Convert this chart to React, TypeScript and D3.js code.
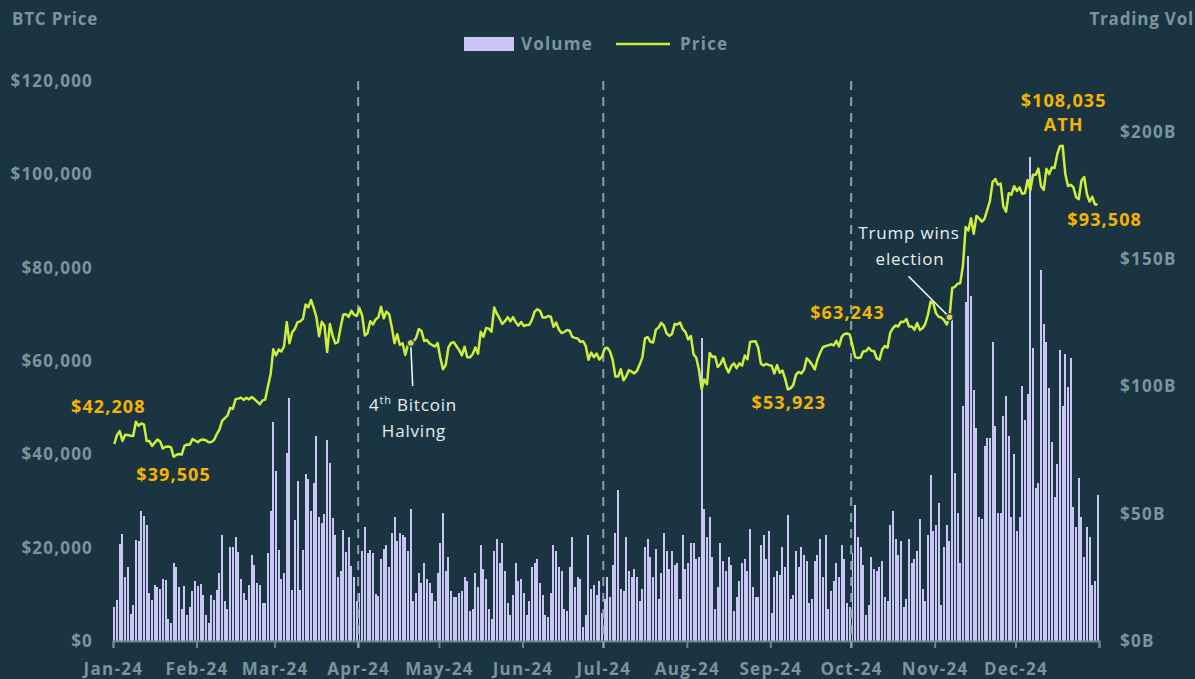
import React, { useEffect, useRef } from 'react';
import * as d3 from 'd3';

// Daily BTC price in USD thousands, Jan 1 – Dec 31 2024 (one value per day)
const price = [
  42.21, 44.17, 44.96, 42.85, 44.18, 44.16, 43.99, 43.94, 46.97, 46.14,
  46.63, 46.37, 42.85, 42.84, 41.80, 42.51, 43.15, 42.74, 41.26, 41.62,
  41.67, 41.55, 39.51, 39.85, 40.08, 39.93, 41.82, 42.12, 42.04, 43.29,
  42.95,
  42.58, 43.08, 43.19, 42.99, 42.58, 42.66, 43.08, 44.32, 45.30, 47.15,
  47.77, 48.29, 49.96, 49.74, 51.83, 51.94, 52.16, 51.66, 52.12, 51.78,
  52.28, 51.84, 51.30, 50.73, 51.57, 51.73, 54.52, 57.09, 62.50,
  61.20, 62.44, 62.03, 63.17, 68.33, 63.80, 66.11, 66.93, 68.30, 68.50,
  69.02, 72.12, 71.48, 73.08, 71.40, 69.40, 65.32, 68.39, 67.55, 61.91,
  67.91, 65.49, 63.78, 64.06, 67.23, 69.96, 70.00, 69.46, 70.78, 69.89,
  69.65,
  71.33, 69.70, 65.45, 65.98, 68.51, 67.84, 68.90, 69.36, 71.63, 69.14,
  70.59, 70.06, 67.20, 63.82, 65.74, 63.43, 63.81, 61.28, 63.51, 63.84,
  64.20, 64.93, 66.84, 66.41, 64.29, 64.50, 63.76, 63.42, 63.11, 63.84,
  60.64, 58.25, 59.12, 62.89, 63.89, 64.03, 63.16, 62.33, 61.19, 63.05,
  60.79, 60.79, 61.45, 62.90, 61.55, 66.27, 65.23, 67.05, 66.94, 66.28,
  71.45, 70.14, 69.12, 67.93, 68.53, 69.39, 68.51, 69.39, 68.30, 67.58,
  68.36,
  67.49, 67.71, 67.75, 68.80, 70.57, 71.08, 70.76, 69.34, 69.31, 69.65,
  69.50, 67.33, 68.24, 66.76, 66.01, 66.19, 66.64, 66.49, 65.16, 64.96,
  64.83, 64.10, 64.25, 63.18, 60.28, 61.80, 60.81, 61.60, 60.32, 60.89,
  62.68, 62.85, 62.03, 60.17, 56.66, 56.66, 58.23, 55.86, 56.71, 58.05,
  57.72, 57.34, 57.90, 59.23, 60.79, 64.87, 65.10, 64.12, 63.97, 66.71,
  67.16, 68.19, 67.58, 65.93, 65.37, 65.80, 67.91, 67.81, 68.26, 66.82,
  66.20,
  64.62, 65.36, 61.42, 60.70, 58.16, 53.99, 56.03, 55.03, 61.71, 60.88,
  60.95, 58.71, 59.35, 60.61, 58.74, 57.56, 58.89, 59.48, 58.48, 59.49,
  59.01, 61.18, 60.38, 64.09, 64.18, 64.22, 62.83, 59.42, 59.03, 59.39,
  59.12,
  58.97, 57.33, 59.11, 57.48, 57.97, 56.16, 53.92, 54.14, 54.84, 57.02,
  57.65, 57.34, 58.13, 60.57, 60.01, 59.18, 58.21, 60.31, 61.76, 62.95,
  63.20, 63.35, 63.58, 63.33, 64.30, 63.14, 65.18, 65.79, 65.89, 65.64,
  63.24, 60.84, 60.63, 60.75, 62.08, 62.09, 62.82, 62.22, 62.13, 60.58,
  60.27, 62.45, 63.19, 62.85, 66.05, 67.04, 67.61, 67.40, 68.42, 68.36,
  69.00, 67.37, 67.38, 66.68, 68.16, 66.64, 67.01, 67.93, 69.91, 72.72,
  72.34,
  70.22, 69.48, 69.29, 68.74, 67.81, 69.36, 75.64, 75.90, 76.55, 76.68,
  80.47, 88.70, 87.96, 90.58, 87.25, 91.07, 90.56, 89.85, 90.46, 92.31,
  94.29, 98.32, 98.99, 97.78, 98.01, 93.10, 91.99, 95.96, 95.65, 97.46,
  96.45, 97.19, 95.84, 95.97, 98.77, 96.59, 99.92, 99.92, 101.24, 97.43,
  96.68, 101.17, 100.04, 101.46, 101.37, 104.30, 106.03, 106.14, 100.04, 97.49,
  97.76, 97.22, 95.10, 94.69, 98.68, 99.43, 95.79, 94.16, 95.16, 93.53,
  93.51
];

// Daily trading volume in USD billions
const volume = [
  13.3, 16.3, 38.2, 42.2, 25.1, 29.0, 10.8, 14.1, 39.8, 39.2,
  50.9, 49.0, 45.4, 18.9, 16.3, 21.9, 21.1, 20.6, 24.2, 23.8,
  8.7, 6.9, 30.5, 29.0, 21.1, 12.7, 21.8, 10.2, 13.3, 19.6,
  23.5, 21.5, 22.2, 18.0, 10.2, 7.0, 18.0, 16.3, 20.2, 26.8,
  41.5, 15.7, 12.4, 36.9, 36.9, 40.9, 35.0, 24.2, 18.9, 16.3,
  21.9, 33.7, 29.8, 22.8, 21.9, 15.0, 15.0, 34.6, 50.9, 86.2,
  66.6, 35.9, 24.5, 26.6, 73.8, 95.6, 20.2, 47.6, 62.7, 20.2,
  35.9, 65.7, 63.7, 50.9, 62.0, 80.7, 48.7, 46.3, 50.0, 79.0,
  69.8, 48.3, 41.5, 25.1, 27.4, 43.7, 35.0, 40.7, 29.6, 25.1,
  15.9, 18.9, 35.2, 44.8, 34.6, 35.6, 34.6, 18.3, 17.6,
  32.1, 36.0, 37.6, 29.1, 42.6, 48.7, 39.3, 42.4, 41.6, 40.9,
  35.4, 51.7, 15.8, 18.8, 26.8, 22.8, 30.5, 24.4, 22.8, 18.9,
  15.8, 26.8, 38.5, 50.1, 27.5, 32.9, 19.7, 17.4, 17.4, 18.9,
  19.7, 25.2, 23.6, 11.9, 12.7, 26.8, 21.3, 37.6, 28.3, 24.4,
  12.7, 8.7, 35.4, 39.9, 30.7, 38.4, 27.5, 15.0, 10.3, 18.1,
  30.7, 23.6, 24.4, 18.9, 10.3, 15.8, 29.1, 30.7, 32.1, 22.8,
  18.1, 10.3, 9.5, 18.9, 37.6, 35.4, 29.1, 27.5, 12.7, 11.9,
  29.1, 40.9, 21.3, 25.2, 24.4, 5.6, 10.3, 41.6, 20.5, 22.1,
  18.1, 23.6, 11.1, 16.6, 25.2, 17.4, 29.9, 42.4, 59.5, 20.5,
  19.7, 40.9, 27.5, 25.2, 28.3, 25.2, 15.8, 20.5, 36.9, 39.9,
  33.0, 25.2, 36.2, 16.6, 26.8, 42.4, 35.4, 28.3, 35.4, 29.9,
  30.7,
  16.6, 41.6, 28.3, 30.7, 38.5, 38.5, 32.2, 33.0, 119.0, 51.8,
  40.9, 48.7, 33.0, 12.7, 21.3, 38.5, 31.5, 27.5, 33.0, 29.9,
  11.9, 17.4, 23.6, 30.7, 32.2, 27.5, 44.0, 21.3, 17.4, 17.4,
  37.7, 41.6, 32.2, 43.2, 11.1, 25.2, 27.5, 26.0, 36.9, 29.1,
  49.5, 16.6, 18.1, 35.4, 29.1, 36.9, 33.8, 31.5, 15.0, 16.6,
  31.5, 33.8, 40.1, 25.2, 41.6, 12.7, 19.7, 23.6, 30.7, 25.2,
  37.7, 32.2, 15.0, 13.4, 34.6, 53.4, 40.9, 36.9, 29.9, 10.3,
  14.2, 33.0, 28.3, 27.5, 29.1, 31.5, 17.4, 15.8, 45.6, 51.0,
  40.1, 33.8, 39.3, 13.4, 16.6, 40.1, 30.7, 32.2, 35.4, 47.9,
  20.5, 15.8, 41.6, 65.1, 43.2, 45.6, 54.2, 14.2, 36.9, 45.6,
  39.3, 126.0, 65.9, 50.3,
  30.5, 92.4, 133.2, 151.2, 135.5, 98.7, 83.8, 48.6, 47.8, 76.8,
  79.9, 79.9, 117.5, 84.6, 50.1, 50.1, 88.5, 96.3, 80.7, 48.6,
  73.6, 43.1, 48.6, 100.3, 86.9, 97.1, 190.0, 115.1, 60.3, 61.9,
  145.7, 124.5, 117.5, 99.5, 78.3, 56.4, 69.7, 114.4, 92.4, 112.8,
  99.9, 111.2, 52.5, 44.6, 64.2, 48.6, 32.9, 44.6, 40.7, 21.9,
  23.5, 57.2
];

const priceTicks = [0, 20000, 40000, 60000, 80000, 100000, 120000];
const volumeTicks = [0, 50, 100, 150, 200];
const quarterMarks = [new Date(2024, 3, 1), new Date(2024, 6, 1), new Date(2024, 9, 1)];

// price call-outs: day index in the series, label
const callouts = [
  { day: 0, text: '$42,208' },
  { day: 22, text: '$39,505' },
  { day: 250, text: '$53,923' },
  { day: 274, text: '$63,243' },
  { day: 352, text: '$108,035' },
  { day: 365, text: '$93,508' }
];
const events = [
  { day: 110, text: 'Halving' },
  { day: 310, text: 'Trump wins election' }
];

const W = 1195;
const H = 679;
const font = "'Open Sans', 'Segoe UI', sans-serif";
const GRAY = '#7c949c';
const GOLD = '#f4b400';

const BtcChart = () => {
  const ref = useRef(null);

  useEffect(() => {
    const root = d3.select(ref.current);
    root.selectAll('*').remove();

    const svg = root.append('svg')
      .attr('width', W)
      .attr('height', H)
      .style('display', 'block')
      .style('position', 'absolute')
      .style('left', 0)
      .style('top', 0)
      .style('font-family', font);

    svg.append('rect').attr('width', W).attr('height', H).attr('fill', '#1a3541');

    const days = d3.timeDay.range(new Date(2024, 0, 1), new Date(2025, 0, 1));
    const x = d3.scaleTime()
      .domain([new Date(2024, 0, 1), new Date(2025, 0, 1)])
      .range([113, 1099]);
    const step = (1099 - 113) / days.length;
    const cx = (i) => x(days[i]) + step / 2;

    const yP = d3.scaleLinear().domain([0, 120000]).range([641, 81]);
    const yV = d3.scaleLinear().domain([0, 220]).range([641, 81]);

    // headers (the volume title runs to the right edge, as in the source)
    svg.append('text').attr('x', 12).attr('y', 25)
      .attr('fill', GRAY).attr('font-size', 17).attr('font-weight', 700)
      .attr('letter-spacing', 0.8)
      .text('BTC Price');
    svg.append('text').attr('x', 1194).attr('y', 25).attr('text-anchor', 'end')
      .attr('fill', GRAY).attr('font-size', 17).attr('font-weight', 700)
      .attr('letter-spacing', 0.8)
      .text('Trading Vol');

    // legend
    const lg = svg.append('g').attr('font-size', 17).attr('font-weight', 700)
      .attr('fill', GRAY).attr('letter-spacing', 1.2);
    lg.append('rect').attr('x', 464).attr('y', 37).attr('width', 50).attr('height', 14).attr('fill', '#cac6f5');
    lg.append('text').attr('x', 521).attr('y', 50).text('Volume');
    lg.append('line').attr('x1', 616).attr('x2', 670).attr('y1', 44).attr('y2', 44)
      .attr('stroke', '#cdef3b').attr('stroke-width', 2.5);
    lg.append('text').attr('x', 680).attr('y', 50).text('Price');

    // left axis
    svg.append('g').selectAll('text').data(priceTicks).enter().append('text')
      .attr('x', 93).attr('y', d => yP(d) + 6)
      .attr('text-anchor', 'end').attr('fill', GRAY)
      .attr('font-size', 17).attr('font-weight', 700).attr('letter-spacing', 1.2)
      .text(d => '$' + d3.format(',')(d));

    // right axis
    svg.append('g').selectAll('text').data(volumeTicks).enter().append('text')
      .attr('x', 1120).attr('y', d => yV(d) + 6)
      .attr('fill', GRAY).attr('font-size', 17).attr('font-weight', 700).attr('letter-spacing', 1.3)
      .text(d => '$' + d + 'B');

    // volume bars
    const bw = step * 0.74;
    svg.append('g').attr('shape-rendering', 'crispEdges')
      .selectAll('rect').data(volume).enter().append('rect')
      .attr('x', (d, i) => cx(i) - bw / 2)
      .attr('y', d => yV(d))
      .attr('width', bw)
      .attr('height', d => 641 - yV(d))
      .attr('fill', '#cac6f5');

    // bottom axis
    const months = d3.timeMonth.range(new Date(2024, 0, 1), new Date(2025, 0, 2));
    const axis = svg.append('g').attr('transform', 'translate(0,641)')
      .call(d3.axisBottom(x).tickValues(months).tickSize(7)
        .tickFormat((d) => d.getFullYear() === 2024 ? d3.timeFormat('%b-%y')(d) : ''));
    axis.select('.domain').attr('stroke', '#6d8790').attr('stroke-width', 2);
    axis.selectAll('.tick line').attr('stroke', '#6d8790').attr('stroke-width', 2);
    axis.selectAll('.tick text')
      .attr('fill', GRAY).attr('font-size', 17).attr('font-weight', 700)
      .attr('letter-spacing', 1.3)
      .attr('font-family', font).attr('dy', 24);

    // quarter markers
    svg.append('g').selectAll('line').data(quarterMarks).enter().append('line')
      .attr('x1', d => x(d)).attr('x2', d => x(d))
      .attr('y1', 81).attr('y2', 648)
      .attr('stroke', '#8aa0a7').attr('stroke-width', 2)
      .attr('stroke-dasharray', '9,7');

    // price line
    const line = d3.line().x((d, i) => cx(i)).y(d => yP(d * 1000)).curve(d3.curveLinear);
    svg.append('path').datum(price)
      .attr('d', line)
      .attr('fill', 'none')
      .attr('stroke', '#cdef3b')
      .attr('stroke-width', 2.5)
      .attr('stroke-linejoin', 'round');

    // price call-outs
    const offs = [[-6, -31], [0, 24], [1, 20], [-5, -27], [1, -39], [7, 21]];
    callouts.forEach((c, i) => {
      const px = cx(c.day) + offs[i][0];
      const py = yP(price[c.day] * 1000) + offs[i][1];
      svg.append('text').attr('x', px).attr('y', py)
        .attr('text-anchor', 'middle').attr('fill', GOLD)
        .attr('font-size', 18).attr('font-weight', 700).attr('letter-spacing', 1.1)
        .text(c.text);
      if (c.day === 352) {
        svg.append('text').attr('x', px).attr('y', py + 24)
          .attr('text-anchor', 'middle').attr('fill', GOLD)
          .attr('font-size', 18).attr('font-weight', 700).attr('letter-spacing', 1.1)
          .text('ATH');
      }
    });

    // events
    const ev = svg.append('g').attr('fill', '#e6edef').attr('font-size', 17).attr('letter-spacing', 0.8);
    const h = events[0];
    const hx = cx(h.day), hy = yP(price[h.day] * 1000);
    ev.append('line').attr('x1', hx).attr('y1', hy).attr('x2', hx + 2).attr('y2', hy + 43)
      .attr('stroke', '#ffffff').attr('stroke-width', 1.5);
    const t1 = ev.append('text').attr('x', 413).attr('y', 411).attr('text-anchor', 'middle');
    t1.append('tspan').text('4');
    t1.append('tspan').attr('font-size', 11).attr('dy', -7).text('th');
    t1.append('tspan').attr('dy', 7).text(' Bitcoin');
    ev.append('text').attr('x', 414).attr('y', 437).attr('text-anchor', 'middle').text(h.text);

    const e = events[1];
    const ex = cx(e.day), ey = yP(price[e.day] * 1000);
    ev.append('line').attr('x1', ex).attr('y1', ey).attr('x2', ex - 41).attr('y2', ey - 41)
      .attr('stroke', '#ffffff').attr('stroke-width', 1.5);
    ev.append('text').attr('x', 909).attr('y', 239).attr('text-anchor', 'middle').text('Trump wins');
    ev.append('text').attr('x', 910).attr('y', 265).attr('text-anchor', 'middle').text('election');

    [[hx, hy], [ex, ey]].forEach(p => {
      svg.append('circle').attr('cx', p[0]).attr('cy', p[1]).attr('r', 3.5)
        .attr('fill', '#f7c948').attr('stroke', '#0f5a63').attr('stroke-width', 1.5);
    });
  }, []);

  return <div ref={ref}></div>;
};

export default function App() {
  return <BtcChart />;
}
